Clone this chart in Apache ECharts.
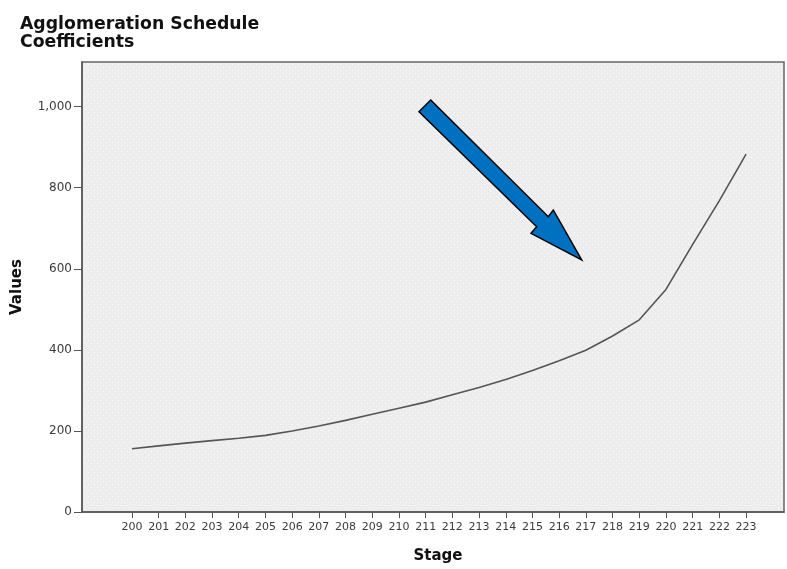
<!DOCTYPE html>
<html>
<head>
<meta charset="utf-8">
<script src="https://cdn.jsdelivr.net/npm/echarts@6/dist/echarts.min.js"></script>
<style>html,body{margin:0;padding:0;background:#fff;}#c{width:787px;height:569px;}</style>
</head>
<body>
<div id="c"></div>
<script>
// ---- data ----
const stages = [200,201,202,203,204,205,206,207,208,209,210,211,212,213,214,215,216,217,218,219,220,221,222,223];
const coefficients = [156,163,170,176,182,189,200,212,226,241,256,271,289,307,327,349,373,399,434,474,549,660,768,883];
const yTicks = [0,200,400,600,800,1000];
const titleLines = ['Agglomeration Schedule','Coefficients'];

// ---- background pattern (light grey with faint white dots) ----
const tile = document.createElement('canvas');
tile.width = 6; tile.height = 6;
const tc = tile.getContext('2d');
tc.fillStyle = '#ededed'; tc.fillRect(0,0,6,6);
tc.fillStyle = '#fdfdfd';
tc.fillRect(1,1,1,1); tc.fillRect(4,4,1,1);

const chart = echarts.init(document.getElementById('c'), null, {renderer:'canvas'});
const FONT = 'DejaVu Sans';
chart.setOption({
  animation: false,
  title: {
    text: titleLines.join('\n'),
    left: 20, top: 16, padding: 0,
    textStyle: {fontFamily: FONT, fontWeight: 'bold', fontSize: 17.3, lineHeight: 18, color: '#111'}
  },
  grid: {
    left: 82, top: 62, right: 3, bottom: 52,
    show: true,
    backgroundColor: {image: tile, repeat: 'repeat'},
    borderColor: '#666', borderWidth: 1.5
  },
  xAxis: {
    type: 'value',
    min: 198.13, max: 224.42,
    name: 'Stage', nameLocation: 'middle', nameGap: 37,
    nameTextStyle: {fontFamily: FONT, fontWeight: 'bold', fontSize: 15, color: '#111', padding: [0,0,0,10]},
    axisLine: {show: true, onZero: false, lineStyle: {color: '#555', width: 1.5}},
    axisTick: {show: true, length: 6, customValues: stages, lineStyle: {color: '#555'}},
    axisLabel: {customValues: stages, margin: 10, fontFamily: FONT, fontSize: 11, color: '#3a3a3a'},
    splitLine: {show: false}
  },
  yAxis: {
    type: 'value',
    min: 0, max: 1110,
    name: 'Values', nameLocation: 'middle', nameGap: 57,
    nameTextStyle: {fontFamily: FONT, fontWeight: 'bold', fontSize: 15, color: '#111'},
    axisLine: {show: true, lineStyle: {color: '#555', width: 1.5}},
    axisTick: {show: true, length: 8, customValues: yTicks, lineStyle: {color: '#555'}},
    axisLabel: {customValues: yTicks, margin: 10, fontFamily: FONT, fontSize: 12, color: '#3a3a3a',
      formatter: v => v.toLocaleString('en-US')},
    splitLine: {show: false}
  },
  series: [{
    type: 'line',
    data: stages.map((s,i) => [s, coefficients[i]]),
    showSymbol: false, symbol: 'none',
    lineStyle: {color: '#555', width: 1.6},
    z: 3
  }],
  graphic: [{
    type: 'polygon',
    z: 100,
    shape: {points: [[430.7,100],[548.3,216.7],[553.3,210],[581.7,260],[531,233.3],[536.7,226.7],[419,111.7]]},
    style: {fill: '#0070c0', stroke: '#000', lineWidth: 1.5, lineJoin: 'miter'}
  }]
});
</script>
</body>
</html>
